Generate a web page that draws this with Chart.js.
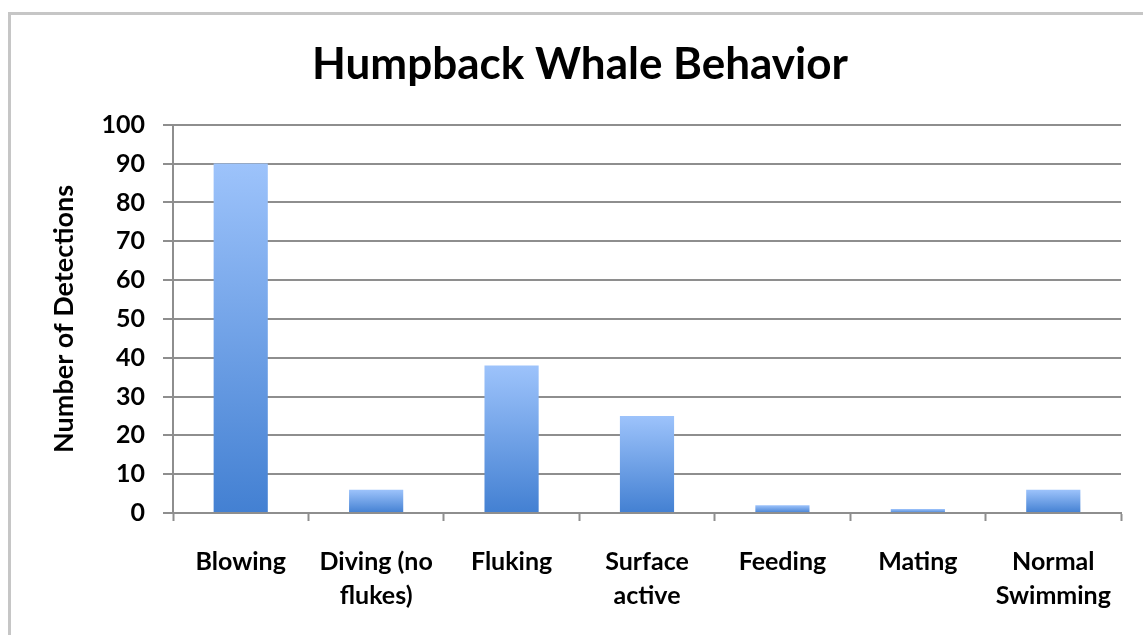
<!DOCTYPE html>
<html>
<head>
<meta charset="utf-8">
<title>Humpback Whale Behavior</title>
<script src="https://cdn.jsdelivr.net/npm/chart.js@4/dist/chart.umd.min.js"></script>
<style>
  html, body { margin: 0; padding: 0; background: #ffffff; overflow: hidden; }
  #wrap { position: relative; width: 1143px; height: 635px; }
  #frame {
    position: absolute; left: 8px; top: 12px; width: 1300px; height: 800px;
    border: 3px solid #c6c6c6; box-sizing: border-box;
  }
  #chart { position: absolute; left: 0; top: 0; }
</style>
</head>
<body>
<div id="wrap">
  <div id="frame"></div>
  <canvas id="chart" width="1143" height="635"></canvas>
</div>
<script>
// Behaviour categories (multi-line labels as arrays)
const categories = [
  'Blowing',
  ['Diving (no', 'flukes)'],
  'Fluking',
  ['Surface', 'active'],
  'Feeding',
  'Mating',
  ['Normal', 'Swimming']
];
// Number of detections per behaviour
const detections = [90, 6, 38, 25, 2, 1, 6];
// Y axis range and step
const yMin = 0;
const yMax = 100;
const yStep = 10;

const chartTitle = 'Humpback Whale Behavior';
const yTitle = 'Number of Detections';

const FONT = 'Lato, "Open Sans", sans-serif';
const GRID = '#8e8e8e';

// Each bar gets its own vertical gradient: light on top, deeper blue at the base
function barGradient(ctx) {
  const chart = ctx.chart;
  const y = chart.scales && chart.scales.y;
  const fallback = '#6a9de6';
  if (!y || typeof ctx.raw !== 'number') return fallback;
  const top = y.getPixelForValue(ctx.raw);
  const base = y.getPixelForValue(0);
  if (!isFinite(top) || !isFinite(base) || top === base) return fallback;
  const g = chart.ctx.createLinearGradient(0, top, 0, base);
  g.addColorStop(0, '#9dc3fb');
  g.addColorStop(1, '#4380d2');
  return g;
}

new Chart(document.getElementById('chart'), {
  type: 'bar',
  data: {
    labels: categories,
    datasets: [{
      label: yTitle,
      data: detections,
      backgroundColor: barGradient,
      borderWidth: 0,
      barPercentage: 0.4,
      categoryPercentage: 1.0
    }]
  },
  options: {
    responsive: false,
    animation: false,
    devicePixelRatio: 1,
    layout: { padding: { left: 39, right: 22, top: 0, bottom: 0 } },
    plugins: {
      legend: { display: false },
      tooltip: { enabled: false },
      title: {
        display: true,
        text: chartTitle,
        color: '#000000',
        font: { family: FONT, size: 44, weight: 'bold', lineHeight: 1.2 },
        padding: { top: 38, bottom: 34 }
      }
    },
    scales: {
      x: {
        grid: {
          offset: true,
          drawOnChartArea: false,
          drawTicks: true,
          tickLength: 8,
          tickWidth: 2,
          tickColor: GRID
        },
        border: { display: true, color: GRID, width: 2 },
        ticks: {
          color: '#000000',
          font: { family: FONT, size: 25, weight: 'bold', lineHeight: 1.36 },
          padding: 24,
          maxRotation: 0,
          autoSkip: false
        },
        afterFit: (scale) => { scale.height = 122; }
      },
      y: {
        min: yMin,
        max: yMax,
        grid: {
          color: GRID,
          lineWidth: 2,
          drawTicks: true,
          tickLength: 10
        },
        border: { display: true, color: GRID, width: 2 },
        ticks: {
          stepSize: yStep,
          color: '#000000',
          font: { family: FONT, size: 25, weight: 'bold' },
          padding: 18
        },
        title: {
          display: true,
          text: yTitle,
          color: '#000000',
          font: { family: FONT, size: 27, weight: 'bold', lineHeight: 1.2 },
          padding: { top: 9, bottom: 0 }
        },
        afterFit: (scale) => { scale.width = 134; }
      }
    }
  }
});
</script>
</body>
</html>
